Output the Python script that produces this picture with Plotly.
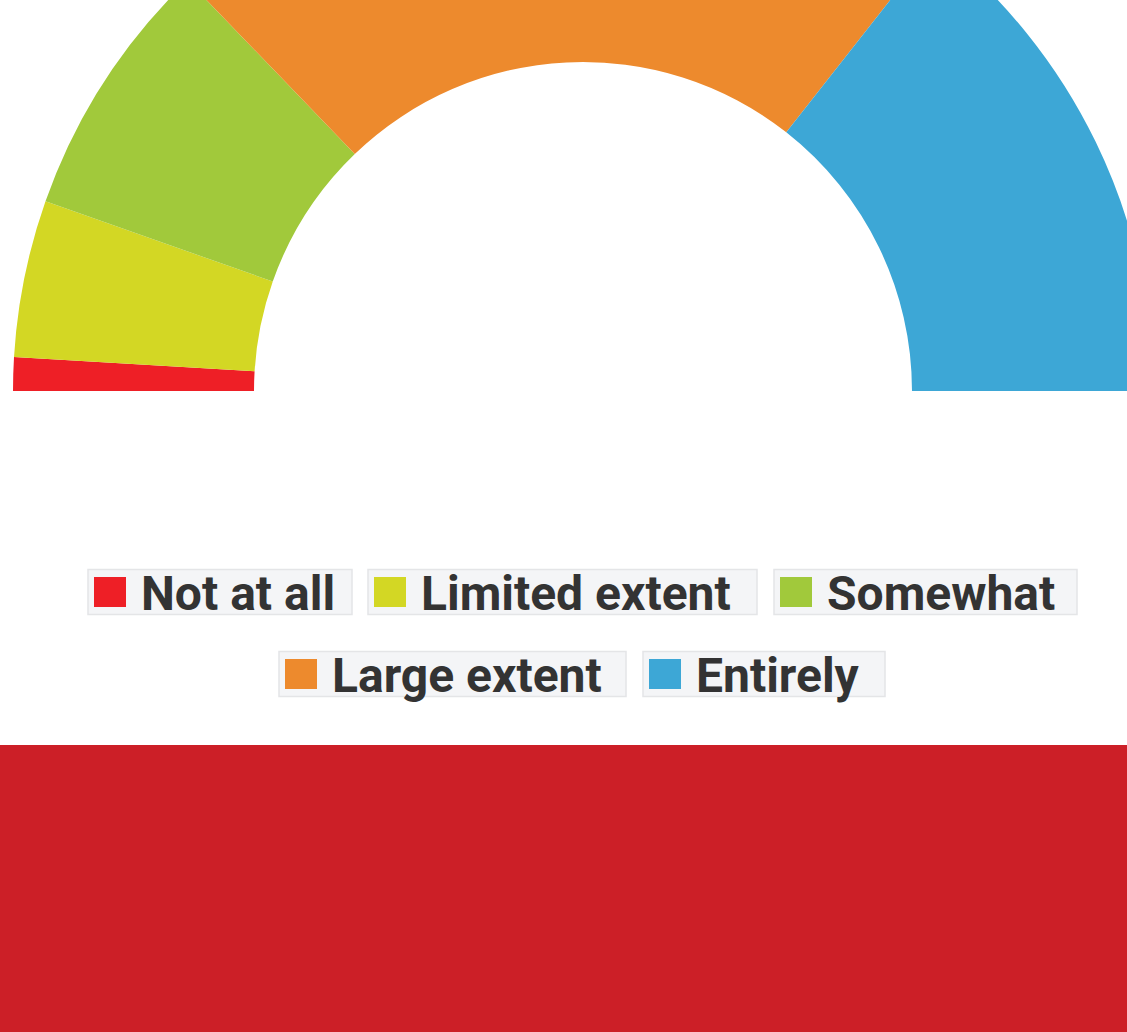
import plotly.graph_objects as go

# ---- data ----
categories = ["Not at all", "Limited extent", "Somewhat", "Large extent", "Entirely"]
values = [1.9, 8.9, 14.8, 45.6, 28.8]
colors = ["#ee1f26", "#d3d724", "#a1c93b", "#ed8a2d", "#3da7d6"]

# ---- geometry (page pixels) ----
FIG_W, FIG_H = 1160, 1212
SHIFT = 180                      # top part of the figure scrolled out of view
CX, CY, R = 583, 391 + SHIFT, 570
HOLE = 329 / 570

total = sum(values)
pie_vals = values + [total]      # invisible lower half
pie_cols = colors + ["rgba(0,0,0,0)"]

fig = go.Figure(go.Pie(
    labels=categories + [""],
    values=pie_vals,
    marker=dict(colors=pie_cols, line=dict(width=0)),
    hole=HOLE,
    sort=False,
    direction="clockwise",
    rotation=270,
    textinfo="none",
    hoverinfo="skip",
    showlegend=False,
    domain=dict(x=[(CX - R) / FIG_W, (CX + R) / FIG_W],
                y=[1 - (CY + R) / FIG_H, 1 - (CY - R) / FIG_H]),
))

def px(x):
    return x / FIG_W

def py(y):
    return 1 - (y + SHIFT) / FIG_H

shapes = [dict(type="rect", xref="paper", yref="paper", x0=0, x1=1,
               y0=0, y1=py(745), fillcolor="#cc1f27", line=dict(width=0),
               layer="below")]
annotations = []

# legend layout (page px): left edge, width, row centre
box_x = [88, 368, 774, 279, 643]
box_w = [264, 389, 303, 347, 242]
box_yc = [592, 592, 592, 674, 674]
BOX_H = 45
for lab, col, bx, bw, yc in zip(categories, colors, box_x, box_w, box_yc):
    shapes.append(dict(type="rect", xref="paper", yref="paper",
                       x0=px(bx), x1=px(bx + bw), y0=py(yc + BOX_H / 2), y1=py(yc - BOX_H / 2),
                       fillcolor="#f4f5f7", line=dict(color="#e4e5e7", width=1.5)))
    shapes.append(dict(type="rect", xref="paper", yref="paper",
                       x0=px(bx + 6), x1=px(bx + 38), y0=py(yc + 15), y1=py(yc - 15),
                       fillcolor=col, line=dict(width=0)))
    annotations.append(dict(text=lab, xref="paper", yref="paper",
                            x=px(bx + 51), y=py(yc + 1), xanchor="left", yanchor="middle",
                            showarrow=False,
                            font=dict(family="Roboto", size=48, color="#333333", weight="bold")))

fig.update_layout(
    width=FIG_W, height=FIG_H,
    margin=dict(l=0, r=0, t=0, b=0),
    paper_bgcolor="white", plot_bgcolor="white",
    shapes=shapes, annotations=annotations,
    showlegend=False,
)

post = ("document.body.style.margin='0';document.body.style.overflow='hidden';"
        "document.documentElement.style.overflow='hidden';"
        "var g=document.getElementById('{plot_id}');g.style.marginTop='-%dpx';" % SHIFT)
fig.write_html("out.html", post_script=post, config={"displayModeBar": False})
